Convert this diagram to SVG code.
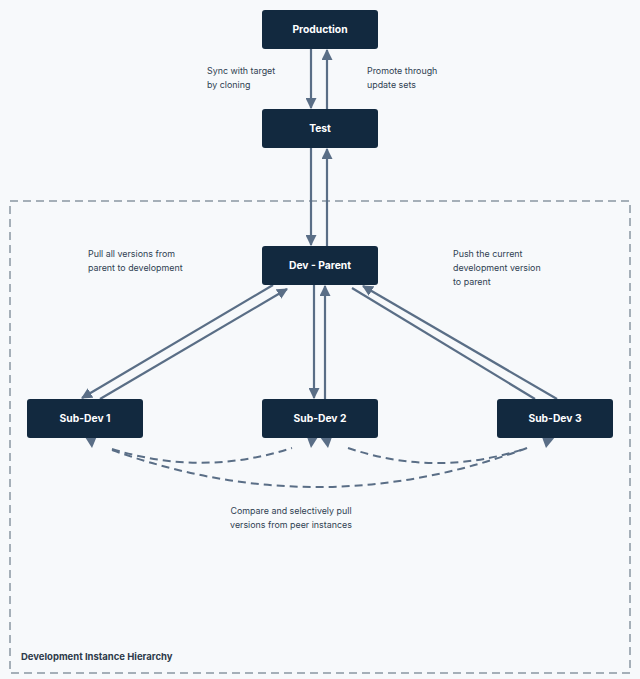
<svg xmlns="http://www.w3.org/2000/svg" width="640" height="679" viewBox="0 0 640 679">
<defs>
<style>
.node rect{fill:#12293f;rx:3;ry:3}
.node text{fill:#ffffff;font-family:Inter,"Liberation Sans",sans-serif;font-size:10.3px;font-weight:700;text-anchor:middle}
.lbl{fill:#2f3f52;font-family:Inter,"Liberation Sans",sans-serif;font-size:8.9px}
.edge{fill:none;stroke:#5a6e86;stroke-width:2.2}
.dash{fill:none;stroke:#5a6e86;stroke-width:2;stroke-dasharray:8 5}
.head{fill:#5a6e86}
</style>
<marker id="arr" viewBox="0 0 10 10" refX="9" refY="5" markerWidth="5" markerHeight="5" orient="auto" markerUnits="strokeWidth">
<path d="M0,0 L10,5 L0,10 z" fill="#5a6e86"/>
</marker>
</defs>
<rect width="640" height="679" fill="#f7f9fb"/>
<g id="container">
<rect x="10" y="201" width="620" height="472" fill="none" stroke="#8b96a2" stroke-width="1.5" stroke-dasharray="8 5"/>
<text x="21" y="660" style="fill:#2d3a4a;font-family:Inter,'Liberation Sans',sans-serif;font-size:9.5px;font-weight:700">Development Instance Hierarchy</text>
</g>
<g id="connectors">
<path class="edge" d="M311,49 V108" marker-end="url(#arr)"/>
<path class="edge" d="M327,109 V50" marker-end="url(#arr)"/>
<path class="edge" d="M311,148 V245" marker-end="url(#arr)"/>
<path class="edge" d="M327,246 V149" marker-end="url(#arr)"/>
<path class="edge" d="M314,285 V398" marker-end="url(#arr)"/>
<path class="edge" d="M325,399 V286" marker-end="url(#arr)"/>
<path class="edge" d="M273,285 L82,398" marker-end="url(#arr)"/>
<path class="edge" d="M100,399 L287,289" marker-end="url(#arr)"/>
<path class="edge" d="M352,288 L535,399"/>
<path class="edge" d="M557,399 L363,286" marker-end="url(#arr)"/>
<path class="dash" d="M112,449 Q202,477 292,448"/>
<path class="dash" d="M112,450 Q320,525 527,448"/>
<path class="dash" d="M348,448 Q437,478 527,448"/>
<polygon class="head" points="85,437 97,436 92,448"/>
<polygon class="head" points="307,437 318,437 311,448"/>
<polygon class="head" points="320,437 332,437 328,448"/>
<polygon class="head" points="542,437 555,437 546,448"/>
</g>
<g id="production" class="node"><rect x="262" y="10" width="116" height="39"/><text x="320" y="33">Production</text></g>
<g id="test" class="node"><rect x="262" y="109" width="116" height="39"/><text x="320" y="132">Test</text></g>
<g id="dev-parent" class="node"><rect x="262" y="246" width="116" height="39"/><text x="320" y="269">Dev - Parent</text></g>
<g id="sub-dev-1" class="node"><rect x="27" y="399" width="116" height="39"/><text x="85" y="422">Sub-Dev 1</text></g>
<g id="sub-dev-2" class="node"><rect x="262" y="399" width="116" height="39"/><text x="320" y="422">Sub-Dev 2</text></g>
<g id="sub-dev-3" class="node"><rect x="497" y="399" width="116" height="39"/><text x="555" y="422">Sub-Dev 3</text></g>
<g id="labels">
<text class="lbl" x="207" y="74">Sync with target</text>
<text class="lbl" x="207" y="88">by cloning</text>
<text class="lbl" x="367" y="74">Promote through</text>
<text class="lbl" x="367" y="88">update sets</text>
<text class="lbl" x="88" y="257">Pull all versions from</text>
<text class="lbl" x="88" y="271">parent to development</text>
<text class="lbl" x="453" y="257">Push the current</text>
<text class="lbl" x="453" y="271">development version</text>
<text class="lbl" x="453" y="285">to parent</text>
<text class="lbl" x="291" y="514" text-anchor="middle">Compare and selectively pull</text>
<text class="lbl" x="291" y="528" text-anchor="middle">versions from peer instances</text>
</g>
</svg>
